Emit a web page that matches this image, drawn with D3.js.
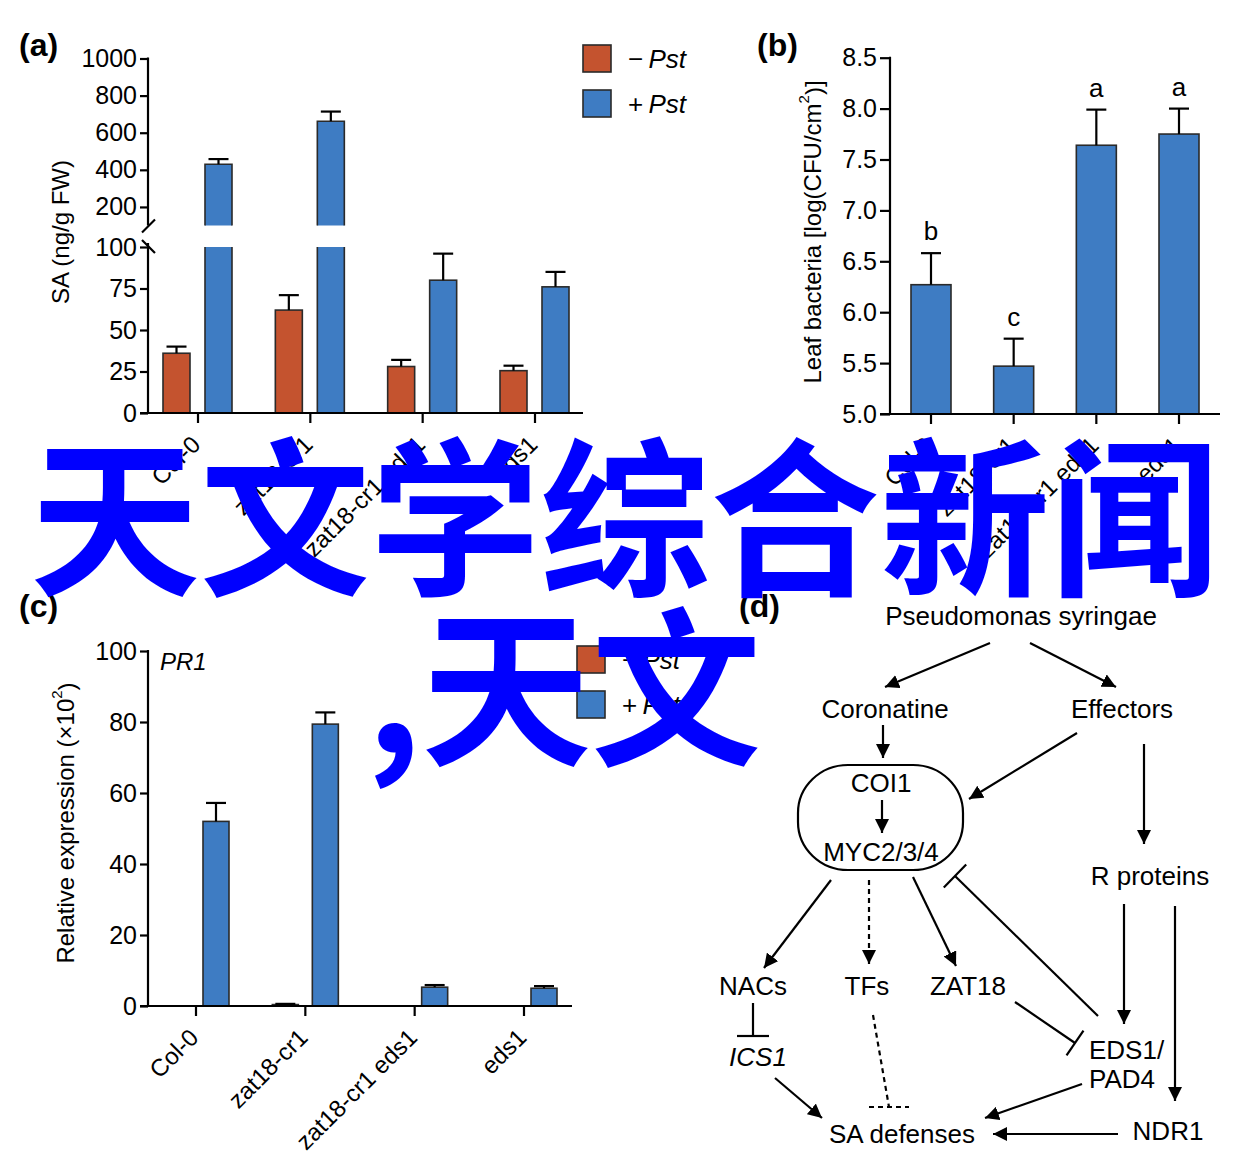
<!DOCTYPE html>
<html><head><meta charset="utf-8">
<script src="https://cdn.jsdelivr.net/npm/d3@7"></script>
<style>
body{margin:0;background:#fff}
svg{display:block}
text{font-family:"Liberation Sans", Arial, Helvetica, sans-serif}
</style>
</head><body>
<svg id="fig" width="1245" height="1166"></svg>
<script>
// ---------- DATA ----------
const genotypes = ["Col-0", "zat18-cr1", "zat18-cr1 eds1", "eds1"];
const treatments = ["\u2212", "+"];           // −Pst, +Pst

// (a) SA content (ng/g FW)
const saMock    = [36, 62, 28, 25.5];
const saMockErr = [4, 9, 4, 3];
const saPst     = [430, 662, 80, 76];
const saPstErr  = [28, 52, 16, 9];
const saLowTicks  = [0, 25, 50, 75, 100];
const saHighTicks = [200, 400, 600, 800, 1000];

// (b) leaf bacteria log(CFU/cm2)
const bactMean    = [6.27, 5.47, 7.64, 7.75];
const bactErr     = [0.31, 0.27, 0.35, 0.25];
const bactLetters = ["b", "c", "a", "a"];
const bactTicks   = [5.0, 5.5, 6.0, 6.5, 7.0, 7.5, 8.0, 8.5];

// (c) PR1 relative expression (x10^2)
const pr1Mock    = [0.1, 0.4, 0.05, 0.05];
const pr1MockErr = [0, 0.2, 0, 0];
const pr1Pst     = [52, 79.4, 5.3, 5.0];
const pr1PstErr  = [5.2, 3.3, 0.6, 0.6];
const pr1Ticks   = [0, 20, 40, 60, 80, 100];

// ---------- STYLE ----------
const ORANGE = "#C4532F", BLUE = "#3E7CC3", EDGE = "#2a2a2a";
const svg = d3.select("#fig");
const FS = 25;

function styleAxis(g){
  g.selectAll("path.domain").remove();
  g.selectAll(".tick line").attr("stroke","#000").attr("stroke-width",2.2);
  g.selectAll(".tick text").attr("font-size",FS).attr("fill","#000")
    .style("font-family",'"Liberation Sans", Arial, sans-serif');
}
function vline(x,y1,y2){ svg.append("line").attr("x1",x).attr("x2",x).attr("y1",y1).attr("y2",y2).attr("stroke","#000").attr("stroke-width",2.2); }
function hline(x1,x2,y){ svg.append("line").attr("x1",x1).attr("x2",x2).attr("y1",y).attr("y2",y).attr("stroke","#000").attr("stroke-width",2.2); }
function errBar(x, yTop, yErr){
  svg.append("line").attr("x1",x).attr("x2",x).attr("y1",yTop).attr("y2",yErr).attr("stroke","#000").attr("stroke-width",2.2);
  svg.append("line").attr("x1",x-10).attr("x2",x+10).attr("y1",yErr).attr("y2",yErr).attr("stroke","#000").attr("stroke-width",2.2);
}
function bar(x0,w,yTop,yBot,fill){
  svg.append("rect").attr("x",x0).attr("y",yTop).attr("width",w).attr("height",Math.max(0,yBot-yTop))
    .attr("fill",fill).attr("stroke",EDGE).attr("stroke-width",1.6);
}
function xLabels(xs, yAxis){
  genotypes.forEach(g=>{
    svg.append("text").attr("transform",`translate(${xs(g)-2},${yAxis+27}) rotate(-45)`)
      .attr("text-anchor","end").attr("dy","0.35em").attr("font-size",FS-1).attr("fill","#000").text(g);
  });
}
function xAxis(xs, x1, x2, y){
  hline(x1,x2,y);
  genotypes.forEach(g=>vline(xs(g), y, y+10));
}
function panelLabel(t,x,y){
  svg.append("text").attr("x",x).attr("y",y).attr("font-size",32).attr("font-weight","bold").attr("fill","#000").attr("dominant-baseline","central").text(t);
}
function legend(x,y){
  [[ORANGE,"\u2212"],[BLUE,"+"]].forEach(([c,s],i)=>{
    svg.append("rect").attr("x",x).attr("y",y+i*45).attr("width",28).attr("height",27).attr("fill",c).attr("stroke",EDGE).attr("stroke-width",1.6);
    const t = svg.append("text").attr("x",x+45).attr("y",y+i*45+14).attr("dominant-baseline","central").attr("font-size",FS+1).attr("fill","#000");
    t.append("tspan").text(s+"\u2009");
    t.append("tspan").attr("font-style","italic").text("Pst");
  });
}

// ---------- PANEL (a) ----------
{
  const xa = d3.scalePoint().domain(genotypes).range([198, 535]);
  const yLow  = d3.scaleLinear().domain([0,100]).range([413,247]);
  const yHigh = d3.scaleLinear().domain([100,1000]).range([225.5,58.5]);
  const AX = 148;
  svg.append("g").attr("transform",`translate(${AX},0)`).call(d3.axisLeft(yLow).tickValues(saLowTicks).tickSize(8).tickPadding(3)).call(styleAxis);
  svg.append("g").attr("transform",`translate(${AX},0)`).call(d3.axisLeft(yHigh).tickValues(saHighTicks).tickFormat(d3.format("d")).tickSize(8).tickPadding(3)).call(styleAxis);
  vline(AX, yLow(0)+1, yLow(100)-4);
  vline(AX, yHigh(100), yHigh(1000)-1);
  // break marks
  svg.append("line").attr("x1",AX-6).attr("y1",yHigh(100)+7).attr("x2",AX+7).attr("y2",yHigh(100)-6).attr("stroke","#000").attr("stroke-width",2.2);
  svg.append("line").attr("x1",AX-6).attr("y1",yLow(100)-7).attr("x2",AX+7).attr("y2",yLow(100)+6).attr("stroke","#000").attr("stroke-width",2.2);
  const W = 27;
  genotypes.forEach((g,i)=>{
    const c = xa(g);
    bar(c-35, W, yLow(saMock[i]), yLow(0), ORANGE);
    errBar(c-35+W/2, yLow(saMock[i]), yLow(saMock[i]+saMockErr[i]));
    const v = saPst[i], bx = c+7;
    if (v <= 100){
      bar(bx, W, yLow(v), yLow(0), BLUE);
      errBar(bx+W/2, yLow(v), yLow(v+saPstErr[i]));
    } else {
      svg.append("rect").attr("x",bx).attr("y",yLow(100)).attr("width",W).attr("height",yLow(0)-yLow(100)).attr("fill",BLUE);
      svg.append("path").attr("d",`M${bx},${yLow(100)}V${yLow(0)}H${bx+W}V${yLow(100)}`).attr("fill","none").attr("stroke",EDGE).attr("stroke-width",1.6);
      svg.append("rect").attr("x",bx).attr("y",yHigh(v)).attr("width",W).attr("height",yHigh(100)-yHigh(v)).attr("fill",BLUE);
      svg.append("path").attr("d",`M${bx},${yHigh(100)}V${yHigh(v)}H${bx+W}V${yHigh(100)}`).attr("fill","none").attr("stroke",EDGE).attr("stroke-width",1.6);
      errBar(bx+W/2, yHigh(v), yHigh(v+saPstErr[i]));
    }
  });
  xAxis(xa, 140, 583, 413);
  xLabels(xa, 413);
  svg.append("text").attr("transform",`translate(60,232) rotate(-90)`).attr("text-anchor","middle")
    .attr("dominant-baseline","central").attr("font-size",FS-1).attr("fill","#000").text("SA (ng/g FW)");
  panelLabel("(a)", 19, 45);
  legend(583, 45);
}

// ---------- PANEL (b) ----------
{
  const xb = d3.scalePoint().domain(genotypes).range([931, 1179]);
  const yb = d3.scaleLinear().domain([5.0, 8.5]).range([414, 57.7]);
  const AX = 890;
  svg.append("g").attr("transform",`translate(${AX},0)`).call(d3.axisLeft(yb).tickValues(bactTicks).tickFormat(d3.format(".1f")).tickSize(10).tickPadding(3)).call(styleAxis);
  vline(AX, yb(5)+1, yb(8.5)-1);
  const W = 40;
  genotypes.forEach((g,i)=>{
    const c = xb(g);
    bar(c-W/2, W, yb(bactMean[i]), yb(5), BLUE);
    errBar(c, yb(bactMean[i]), yb(bactMean[i]+bactErr[i]));
    svg.append("text").attr("x",c).attr("y",yb(bactMean[i]+bactErr[i])-22).attr("text-anchor","middle")
      .attr("dominant-baseline","central").attr("font-size",FS+1).attr("fill","#000").text(bactLetters[i]);
  });
  xAxis(xb, 880, 1220, 414);
  xLabels(xb, 414);
  const t = svg.append("text").attr("transform",`translate(812,232) rotate(-90)`).attr("text-anchor","middle")
    .attr("dominant-baseline","central").attr("font-size",FS-1).attr("fill","#000");
  t.append("tspan").text("Leaf bacteria [log(CFU/cm");
  t.append("tspan").attr("font-size",15).attr("dy","-0.6em").text("2");
  t.append("tspan").attr("dy","0.4em").text(")]");
  panelLabel("(b)", 757, 45);
}

// ---------- PANEL (c) ----------
{
  const xc = d3.scalePoint().domain(genotypes).range([196, 524]);
  const yc = d3.scaleLinear().domain([0,100]).range([1006, 651]);
  const AX = 148;
  svg.append("g").attr("transform",`translate(${AX},0)`).call(d3.axisLeft(yc).tickValues(pr1Ticks).tickSize(8).tickPadding(3)).call(styleAxis);
  vline(AX, yc(0)+1, yc(100)-1);
  const W = 26;
  genotypes.forEach((g,i)=>{
    const c = xc(g);
    if (pr1Mock[i] > 0.2){
      bar(c-33, W, yc(pr1Mock[i]), yc(0), ORANGE);
      errBar(c-33+W/2, yc(pr1Mock[i]), yc(pr1Mock[i]+pr1MockErr[i]));
    }
    bar(c+7, W, yc(pr1Pst[i]), yc(0), BLUE);
    errBar(c+7+W/2, yc(pr1Pst[i]), yc(pr1Pst[i]+pr1PstErr[i]));
  });
  xAxis(xc, 140, 572, 1006);
  xLabels(xc, 1006);
  const t = svg.append("text").attr("transform",`translate(65,823) rotate(-90)`).attr("text-anchor","middle")
    .attr("dominant-baseline","central").attr("font-size",FS-1).attr("fill","#000");
  t.append("tspan").text("Relative expression (\u00d710");
  t.append("tspan").attr("font-size",15).attr("dy","-0.6em").text("2");
  t.append("tspan").attr("dy","0.4em").text(")");
  svg.append("text").attr("x",160).attr("y",661).attr("dominant-baseline","central").attr("font-size",FS-1)
    .attr("font-style","italic").attr("fill","#000").text("PR1");
  panelLabel("(c)", 19, 606);
  legend(577, 646);
}

// ---------- PANEL (d) diagram ----------
{
  panelLabel("(d)", 739, 606);
  const defs = svg.append("defs");
  defs.append("marker").attr("id","ah").attr("viewBox","0 0 12 12").attr("refX",12).attr("refY",6)
    .attr("markerWidth",14).attr("markerHeight",14).attr("markerUnits","userSpaceOnUse").attr("orient","auto")
    .append("path").attr("d","M0,0L12,6L0,12Z").attr("fill","#000");
  const nodes = [
    ["Pseudomonas syringae",1021,616,"middle",false],
    ["Coronatine",885,709,"middle",false],
    ["Effectors",1122,709,"middle",false],
    ["COI1",881,783,"middle",false],
    ["MYC2/3/4",881,852,"middle",false],
    ["R proteins",1150,876,"middle",false],
    ["NACs",753,986,"middle",false],
    ["TFs",867,986,"middle",false],
    ["ZAT18",968,986,"middle",false],
    ["ICS1",758,1057,"middle",true],
    ["EDS1/",1089,1050,"start",false],
    ["PAD4",1089,1079,"start",false],
    ["SA defenses",902,1134,"middle",false],
    ["NDR1",1168,1131,"middle",false]
  ];
  nodes.forEach(([t,x,y,a,it])=>{
    svg.append("text").attr("x",x).attr("y",y).attr("text-anchor",a).attr("dominant-baseline","central")
      .attr("font-size",26).attr("fill","#000").attr("font-style",it?"italic":"normal").text(t);
  });
  svg.append("rect").attr("x",798).attr("y",765).attr("width",165).attr("height",105).attr("rx",50).attr("ry",48)
    .attr("fill","none").attr("stroke","#000").attr("stroke-width",2.2);
  const arrows = [
    [990,643,885,687,false],[1030,643,1116,687,false],[883,725,883,758,false],[882,800,882,833,false],
    [1077,733,969,799,false],[1144,744,1144,844,false],[831,880,764,968,false],[869,880,869,964,true],
    [913,877,956,966,false],[1124,904,1124,1024,false],[1175,906,1175,1101,false],[775,1078,822,1118,false],
    [1082,1084,985,1118,false],[1118,1134,993,1134,false]
  ];
  arrows.forEach(([x1,y1,x2,y2,d])=>{
    svg.append("line").attr("x1",x1).attr("y1",y1).attr("x2",x2).attr("y2",y2).attr("stroke","#000").attr("stroke-width",2.2)
      .attr("stroke-dasharray",d?"5,4":null).attr("marker-end","url(#ah)");
  });
  const inhib = [
    [753,1003,753,1036,false,32,false],
    [1015,1002,1075,1043,false,30,false],
    [1098,1016,955,876,false,32,false],
    [873,1015,889,1107,true,40,true]
  ];
  inhib.forEach(([x1,y1,x2,y2,d,L,hz])=>{
    svg.append("line").attr("x1",x1).attr("y1",y1).attr("x2",x2).attr("y2",y2).attr("stroke","#000").attr("stroke-width",2.2)
      .attr("stroke-dasharray",d?"5,4":null);
    let ux, uy;
    if (hz){ ux=1; uy=0; } else { const dx=x2-x1, dy=y2-y1, n=Math.hypot(dx,dy); ux=-dy/n; uy=dx/n; }
    svg.append("line").attr("x1",x2-ux*L/2).attr("y1",y2-uy*L/2).attr("x2",x2+ux*L/2).attr("y2",y2+uy*L/2)
      .attr("stroke","#000").attr("stroke-width",2.2).attr("stroke-dasharray",d?"5,4":null);
  });
}

// ---------- WATERMARK ----------
const wmLines = [["天文学综合新闻", 30, 583], [",天文", 366, 753]];
wmLines.forEach(([t,x,y])=>{
  svg.append("text").attr("x",x).attr("y",y).attr("font-size",170).attr("font-weight","bold")
    .style("font-family",'"Noto Sans CJK SC", sans-serif').style("fill","#0000FF").text(t);
});
</script>
</body></html>
